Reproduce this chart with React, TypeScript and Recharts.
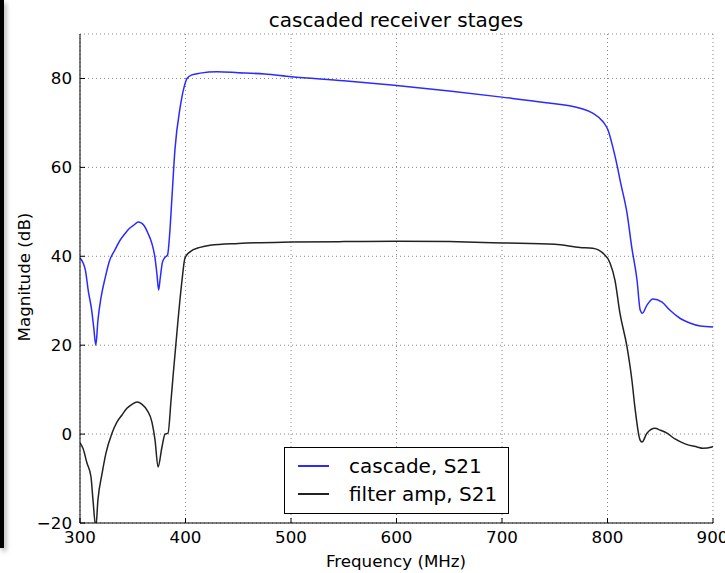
import React from 'react';
import { LineChart, Line, XAxis, YAxis, CartesianGrid } from 'recharts';

const cascadeFreq = [
  300, 303, 305, 308, 311, 313, 315, 317, 320, 324, 328, 333, 338, 343, 347, 352, 355, 358, 361, 364,
  368, 371, 373, 374.5, 376, 378, 380, 383, 385, 387, 390, 395, 398.6, 401.4, 406, 414, 430, 450, 475,
  500, 550, 600, 650, 700, 740, 774, 786, 796, 800.5, 805, 809.5, 812, 818.5, 823, 828, 831, 833, 837.4,
  843, 851.7, 859, 869, 878, 888, 900,
];
const cascadeMag = [
  39.6, 38.5, 37, 32, 28, 24, 20, 25.6, 30.8, 35.3, 39, 41.4, 43.6, 45.2, 46.3, 47.2, 47.7, 47.5, 46.8, 45.4,
  43, 39.8, 35.8, 32.4, 35, 38.5, 39.6, 40.3, 45, 52.6, 64, 73.6, 78, 80, 80.8, 81.2, 81.5, 81.3, 81,
  80.4, 79.5, 78.4, 77.2, 75.8, 74.6, 73.3, 72.2, 70.2, 68.4, 64.6, 60, 57, 49.7, 42, 34.6, 27.9, 27.2, 29,
  30.4, 29.7, 27.9, 26, 25, 24.3, 24.1,
];

const filterFreq = [
  300, 302.8, 306.6, 310.4, 312.3, 315, 317, 321, 324.6, 330.3, 335, 339.8, 344.5, 349.3, 354, 358.8,
  363.5, 368.2, 371.1, 374, 377.7, 380.6, 383.4, 386.3, 388.2, 392.9, 396.7, 399.5, 404.3, 413.7, 423.2,
  450, 500, 550, 600, 650, 700, 750, 774, 786, 795.7, 802.4, 807.1, 811.8, 818.5, 823.2, 826, 830.8,
  832.7, 837.4, 845, 849.8, 856.4, 864, 873.5, 884.8, 890.5, 899, 900,
];
const filterMag = [
  -2, -3.2, -6.5, -9.6, -14.8, -21, -14.8, -8.8, -4.3, 0.2, 2.7, 4.3, 5.8, 6.7, 7.2, 6.7,
  5.4, 2.7, -1.3, -7.4, -2.9, 0, 0.2, 7.6, 13, 25.6, 34.6, 39.6, 41, 42, 42.5,
  42.9, 43.2, 43.3, 43.4, 43.3, 43, 42.7, 42, 41.8, 40.7, 38.5, 34.6, 27.2, 19.6, 12, 6, -1.3,
  -1.8, 0.2, 1.3, 0.9, 0.2, -1.1, -2.2, -2.9, -3.2, -2.9, -2.8,
];

const xTicks = [300, 400, 500, 600, 700, 800, 900];
const yTicks = [-20, 0, 20, 40, 60, 80];

const seriesNames = ['cascade, S21', 'filter amp, S21'];
const seriesColors = ['#2b2bff', '#222222'];

const cascadeData = cascadeFreq.map((f, i) => ({ f, v: cascadeMag[i] }));
const filterData = filterFreq.map((f, i) => ({ f, v: filterMag[i] }));

const FONT = '"DejaVu Sans", sans-serif';
const tickStyle = { fill: '#000', fontSize: 16.7, fontFamily: FONT };
const fmtMinus = (v: number) => String(v).replace('-', '\u2212');
const blank = () => '';

export default function App() {
  return (
    <div style={{ position: 'absolute', left: 0, top: 0, width: 725, height: 573, background: '#fff', overflow: 'hidden' }}>
      <div style={{ position: 'absolute', left: 0, top: 0, width: 4, height: 548, background: '#000', boxShadow: '2px 3px 5px rgba(0,0,0,0.35)' }} />
      <div style={{ position: 'absolute', left: 396, top: 8, transform: 'translateX(-50%)', fontFamily: FONT, fontSize: 20, whiteSpace: 'nowrap', color: '#000' }}>
        cascaded receiver stages
      </div>
      <LineChart width={725} height={573} margin={{ top: 34, right: 12, bottom: 0, left: 0 }}>
        <CartesianGrid stroke="#888" strokeDasharray="1 3" />
        <XAxis
          dataKey="f"
          type="number"
          domain={[300, 900]}
          ticks={xTicks}
          allowDataOverflow
          height={50}
          tickSize={-5}
          tickMargin={13}
          stroke="#000"
          tick={tickStyle}
        />
        <XAxis
          xAxisId="top"
          orientation="top"
          dataKey="f"
          type="number"
          domain={[300, 900]}
          ticks={xTicks}
          height={0}
          tickSize={-5}
          tickFormatter={blank}
          stroke="#000"
        />
        <YAxis
          type="number"
          domain={[-20, 90]}
          ticks={yTicks}
          allowDataOverflow
          width={80}
          tickSize={-5}
          tickMargin={13}
          stroke="#000"
          tick={tickStyle}
          tickFormatter={fmtMinus}
        />
        <YAxis
          yAxisId="right"
          orientation="right"
          type="number"
          domain={[-20, 90]}
          ticks={yTicks}
          width={0}
          tickSize={-5}
          tickFormatter={blank}
          stroke="#000"
        />
        <Line data={cascadeData} dataKey="v" type="monotone" stroke={seriesColors[0]} strokeWidth={1.5} dot={false} isAnimationActive={false} />
        <Line data={filterData} dataKey="v" type="monotone" stroke={seriesColors[1]} strokeWidth={1.5} dot={false} isAnimationActive={false} />
      </LineChart>
      <div style={{ position: 'absolute', left: 24, top: 277, transform: 'translate(-50%, -50%) rotate(-90deg)', fontFamily: FONT, fontSize: 16.7, whiteSpace: 'nowrap', color: '#000' }}>
        Magnitude (dB)
      </div>
      <div style={{ position: 'absolute', left: 396, top: 551, transform: 'translateX(-50%)', fontFamily: FONT, fontSize: 16.7, whiteSpace: 'nowrap', color: '#000' }}>
        Frequency (MHz)
      </div>
      <div style={{ position: 'absolute', left: 284, top: 447, width: 223, height: 65, border: '1px solid #000', background: '#fff', fontFamily: FONT, fontSize: 20, color: '#000' }}>
        {seriesNames.map((name, i) => (
          <div key={name} style={{ position: 'absolute', left: 0, top: 4 + i * 28, height: 28, display: 'flex', alignItems: 'center', whiteSpace: 'nowrap' }}>
            <div style={{ marginLeft: 13, width: 31, height: 1.5, background: seriesColors[i] }} />
            <span style={{ marginLeft: 20 }}>{name}</span>
          </div>
        ))}
      </div>
    </div>
  );
}
